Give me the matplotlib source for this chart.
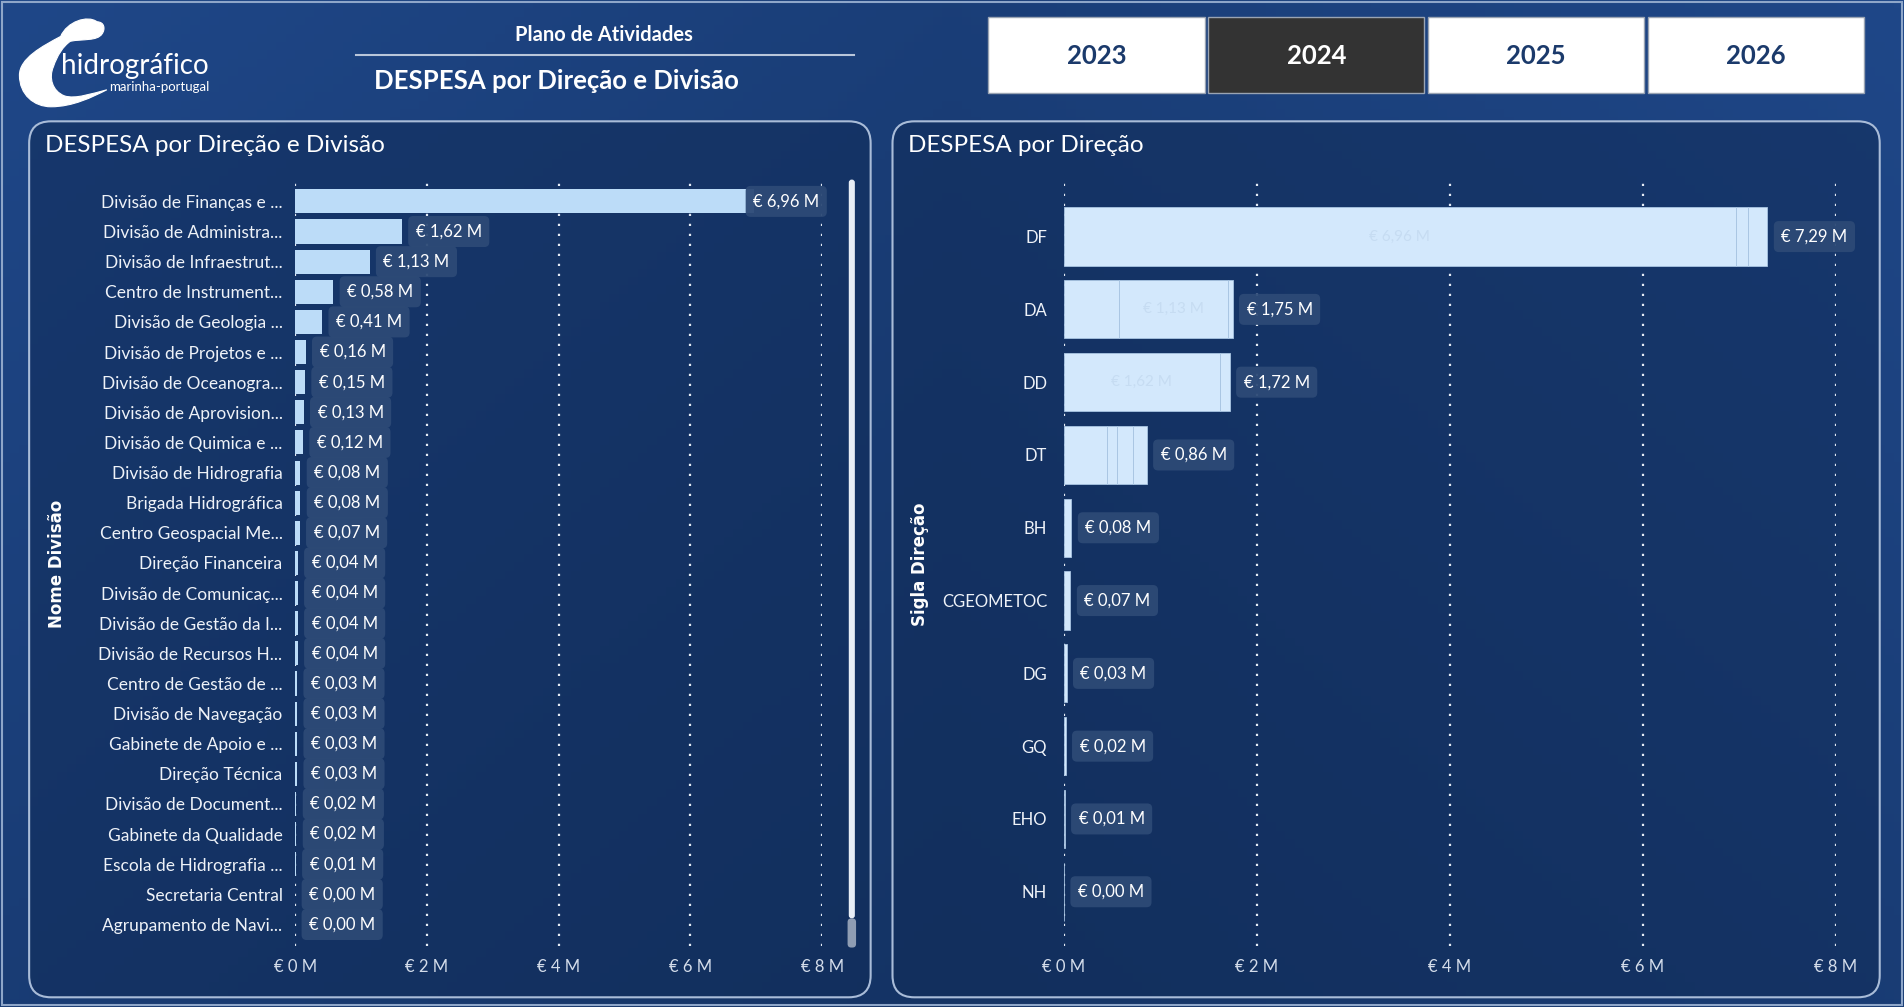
import numpy as np
import matplotlib
matplotlib.use("Agg")
import matplotlib.pyplot as plt
from matplotlib.patches import FancyBboxPatch, Rectangle, PathPatch
from matplotlib.path import Path

plt.rcParams['font.family'] = ['Lato', 'DejaVu Sans']

# ---- data (values in millions of euros) ----
divisoes = ['Divisão de Finanças e ...', 'Divisão de Administra...', 'Divisão de Infraestrut...',
            'Centro de Instrument...', 'Divisão de Geologia ...', 'Divisão de Projetos e ...',
            'Divisão de Oceanogra...', 'Divisão de Aprovision...', 'Divisão de Quimica e ...',
            'Divisão de Hidrografia', 'Brigada Hidrográfica', 'Centro Geospacial Me...',
            'Direção Financeira', 'Divisão de Comunicaç...', 'Divisão de Gestão da I...',
            'Divisão de Recursos H...', 'Centro de Gestão de ...', 'Divisão de Navegação',
            'Gabinete de Apoio e ...', 'Direção Técnica', 'Divisão de Document...',
            'Gabinete da Qualidade', 'Escola de Hidrografia ...', 'Secretaria Central',
            'Agrupamento de Navi...']
valores_div = [6.96, 1.62, 1.13, 0.58, 0.41, 0.16, 0.15, 0.13, 0.12, 0.08, 0.08, 0.07,
               0.04, 0.04, 0.04, 0.04, 0.03, 0.03, 0.03, 0.03, 0.02, 0.02, 0.01, 0.003, 0.002]

siglas = ['DF', 'DA', 'DD', 'DT', 'BH', 'CGEOMETOC', 'DG', 'GQ', 'EHO', 'NH']
# stacked pieces (one per division) inside each direction bar
segmentos = [[6.96, 0.13, 0.20], [0.57, 1.13, 0.05], [1.62, 0.10], [0.45, 0.10, 0.17, 0.14],
             [0.08], [0.07], [0.03], [0.02], [0.01], [0.003]]

anos = ['2023', '2024', '2025', '2026']
ano_ativo = '2024'
x_ticks = [0, 2, 4, 6, 8]
x_tick_labels = ['€ 0 M', '€ 2 M', '€ 4 M', '€ 6 M', '€ 8 M']

W, H = 1568.0, 830.0   # layout grid used to place things


def fx(x):
    return x / W


def fy(y):
    return 1 - y / H


def euro(v):
    return '€ ' + ('%.2f' % v).replace('.', ',') + ' M'


fig = plt.figure(figsize=(19.04, 10.07), dpi=100)

# background
bg = fig.add_axes([0, 0, 1, 1])
bg.set_xlim(0, W)
bg.set_ylim(H, 0)
bg.axis('off')
gx = np.linspace(0, 1, 200)
gy = np.linspace(0, 1, 120)
GX, GY = np.meshgrid(gx, gy)
c1 = np.array([0x1f, 0x47, 0x88]) / 255
c2 = np.array([0x14, 0x33, 0x64]) / 255
t = np.clip(0.55 * GY + 0.45 * (1 - np.abs(GX - 0.5) * 2), 0, 1)[..., None]
img = c1 * (1 - t) + c2 * t
bg.imshow(img, extent=[0, W, H, 0], aspect='auto', zorder=0)
bg.add_patch(Rectangle((2, 2), W - 4, H - 4, fill=False, ec='#8ea6c9', lw=1.5, zorder=1))

# logo (white swoosh + text)
verts = [(80, 18),
         (72, 12), (55, 18), (50, 30),
         (35, 38), (16, 48), (16, 62),
         (16, 78), (28, 88), (42, 88),
         (60, 88), (76, 80), (88, 74),
         (76, 77), (62, 82), (53, 79),
         (43, 75), (40, 64), (44, 55),
         (47, 46), (52, 38), (58, 34),
         (68, 32), (80, 34), (84, 28),
         (87, 24), (86, 18), (80, 18)]
codes = [Path.MOVETO] + [Path.CURVE4] * 27
bg.add_patch(PathPatch(Path(verts, codes), fc='white', ec='white', lw=0.8, zorder=3))
bg.text(50, 61, 'hidrográfico', color='white', fontsize=20, va='baseline', ha='left', zorder=4)
bg.text(90, 67, 'marinha-portugal', color='white', fontsize=9.5, va='top', ha='left', zorder=4)

# header
bg.text(497, 29, 'Plano de Atividades', color='white', fontsize=14.5, ha='center', va='center',
        fontweight='bold', zorder=4)
bg.plot([293, 703], [45, 45], color='#b9c6da', lw=1.5, zorder=4)
bg.text(458, 67, 'DESPESA por Direção e Divisão', color='white', fontsize=18.5, ha='center',
        va='center', fontweight='bold', zorder=4)

# year buttons
bx = 814
for a in anos:
    ativo = a == ano_ativo
    bg.add_patch(Rectangle((bx, 14), 178, 63, fc='#333333' if ativo else 'white',
                           ec='#9aa4b3', lw=1, zorder=3))
    bg.text(bx + 89, 46, a, color='white' if ativo else '#1b3a6b', fontsize=18.5,
            fontweight='bold', ha='center', va='center', zorder=4)
    bx += 181

# panels
for (x0, x1, titulo) in [(24, 717, 'DESPESA por Direção e Divisão'), (735, 1548, 'DESPESA por Direção')]:
    bg.add_patch(FancyBboxPatch((x0, 100), x1 - x0, 722, boxstyle='round,pad=0,rounding_size=18',
                                fc='#112c58', alpha=0.55, ec='none', zorder=2))
    bg.add_patch(FancyBboxPatch((x0, 100), x1 - x0, 722, boxstyle='round,pad=0,rounding_size=18',
                                fc='none', ec='#a9bcd8', lw=1.5, zorder=2))
    bg.text(x0 + 13, 120, titulo, color='white', fontsize=17.5, ha='left', va='center', zorder=4)

# scrollbar on left panel
bg.add_patch(FancyBboxPatch((699, 148), 5, 609, boxstyle='round,pad=0,rounding_size=2.5',
                            fc='#e8eef6', ec='none', zorder=4))
bg.add_patch(FancyBboxPatch((698, 757), 7, 24, boxstyle='round,pad=0,rounding_size=3',
                            fc='#8f9db3', ec='none', zorder=4))

grid_kw = dict(color='#e3eaf4', lw=1.6, linestyle=(0, (1, 3.5)))
lbl_box = dict(boxstyle='round,pad=0.45,rounding_size=0.3', fc='#2d4a76', ec='none', alpha=0.95)

# ---- left chart: despesa por divisão ----
n = len(divisoes)
sp = (762 - 166) / (n - 1)
ax1 = fig.add_axes([fx(243), fy(780), fx(677) - fx(243), (780 - 150) / H])
ax1.set_facecolor('none')
ax1.set_xlim(0, 8)
ax1.set_ylim((780 - 166) / sp, (150 - 166) / sp)
for xt in x_ticks:
    ax1.axvline(xt, zorder=1, **grid_kw)
ypos = np.arange(n)
ax1.barh(ypos, valores_div, height=0.8, color='#bcdcf8', zorder=2)
for i, v in enumerate(valores_div):
    if v + 1.5 > 8:
        ax1.annotate(euro(v), (8, i), xytext=(-2, 0), textcoords='offset points', ha='right',
                     va='center', color='white', fontsize=12, bbox=lbl_box, zorder=3)
    else:
        ax1.annotate(euro(v), (v, i), xytext=(10, 0), textcoords='offset points', ha='left',
                     va='center', color='white', fontsize=12, bbox=lbl_box, zorder=3)
ax1.set_yticks(ypos)
ax1.set_yticklabels(divisoes)
ax1.set_xticks(x_ticks)
ax1.set_xticklabels(x_tick_labels)
ax1.tick_params(axis='y', length=0, pad=9, labelsize=12.5, labelcolor='#eef2f8')
ax1.tick_params(axis='x', length=0, pad=9, labelsize=12, labelcolor='#d3dcea')
for s in ax1.spines.values():
    s.set_visible(False)
fig.text(fx(47), fy(465), 'Nome Divisão', rotation=90, color='white', fontsize=12,
         fontweight='bold', family='DejaVu Sans', ha='center', va='center')

# ---- right chart: despesa por direção (stacked by division) ----
m = len(siglas)
sp2 = 60.0
ax2 = fig.add_axes([fx(876), fy(780), fx(1512) - fx(876), (780 - 148) / H])
ax2.set_facecolor('none')
ax2.set_xlim(0, 8)
ax2.set_ylim((780 - 195) / sp2, (148 - 195) / sp2)
for xt in x_ticks:
    ax2.axvline(xt, zorder=1, **grid_kw)
for i, segs in enumerate(segmentos):
    left = 0
    for s in segs:
        ax2.barh(i, s, left=left, height=0.8, color='#d3e8fc', ec='#a8c4e2', lw=0.6, zorder=2)
        if s >= 1.0:
            ax2.text(left + s / 2, i, euro(s), color='#c6dcf2', fontsize=11, ha='center',
                     va='center', zorder=3)
        left += s
    tot = sum(segs)
    ax2.annotate(euro(tot), (tot, i), xytext=(10, 0), textcoords='offset points', ha='left',
                 va='center', color='white', fontsize=12, bbox=lbl_box, zorder=3)
ax2.set_yticks(np.arange(m))
ax2.set_yticklabels(siglas)
ax2.set_xticks(x_ticks)
ax2.set_xticklabels(x_tick_labels)
ax2.tick_params(axis='y', length=0, pad=12, labelsize=12, labelcolor='#eef2f8')
ax2.tick_params(axis='x', length=0, pad=9, labelsize=12, labelcolor='#d3dcea')
for s in ax2.spines.values():
    s.set_visible(False)
fig.text(fx(758), fy(465), 'Sigla Direção', rotation=90, color='white', fontsize=12,
         fontweight='bold', family='DejaVu Sans', ha='center', va='center')

fig.savefig('out.png', dpi=100)
